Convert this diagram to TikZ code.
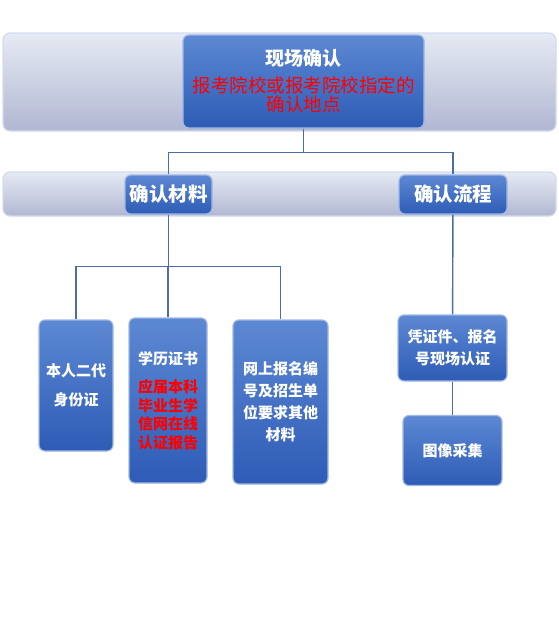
\documentclass[tikz,border=0pt]{standalone}
\usepackage{fontspec}
\setmainfont{Noto Sans CJK SC}
\usepackage{tikz}
\usetikzlibrary{positioning}
\definecolor{bluetop}{HTML}{5C88D3}
\definecolor{bluebot}{HTML}{2E5CB6}
\definecolor{blueedge}{HTML}{9FB8E4}
\definecolor{bandtop}{HTML}{E6EAF4}
\definecolor{bandbot}{HTML}{B1B7D1}
\definecolor{bandedge}{HTML}{D3DBEF}
\definecolor{linecol}{HTML}{4E6DA6}

\begin{document}
\begin{tikzpicture}[x=1pt,y=-1pt,
	blu/.style={rounded corners=6pt,top color=bluetop,bottom color=bluebot,
	draw=blueedge,line width=1.2pt,text=white,align=center,inner sep=0pt,
	font=\fontsize{15}{22}\selectfont\bfseries},
	band/.style={rounded corners=7pt,top color=bandtop,bottom color=bandbot,
	draw=bandedge,line width=1.2pt},
	lin/.style={draw=linecol,line width=1.4pt}]
\useasboundingbox (0,0) rectangle (559,643);
\path[band] (3,33) rectangle (556,131);
\path[band] (3,172) rectangle (556,216);
\node [blu, minimum width=241pt, minimum height=93pt, text width=238pt] (0) at (303.5,81.5)
	{{\fontsize{19}{21}\selectfont 现场确认\par}\vspace{8pt}
	{\color{red}\mdseries\fontsize{18.5}{19}\selectfont 报考院校或报考院校指定的\\确认地点\par}};
\node [blu, minimum width=87pt, minimum height=39pt, font=\fontsize{19.5}{21}\selectfont\bfseries] (1) at (168.5,194.5) {确认材料};
\node [blu, minimum width=108pt, minimum height=39pt, font=\fontsize{19.5}{21}\selectfont\bfseries] (2) at (453,194.5) {确认流程};
\node [blu, minimum width=74pt, minimum height=131pt, font=\fontsize{15}{29}\selectfont\bfseries] (3) at (76,385.5) {本人二代\\身份证};
\node [blu, minimum width=78pt, minimum height=165pt, text width=74pt] (4) at (168,400.5)
	{学历证书\par\vspace{10pt}
	{\color{red}\fontsize{15}{18.5}\selectfont 应届本科\\毕业生学\\信网在线\\认证报告\par}};
\node [blu, minimum width=95pt, minimum height=164pt] (5) at (280.5,402) {网上报名编\\号及招生单\\位要求其他\\材料};
\node [blu, minimum width=109pt, minimum height=66pt] (6) at (452.5,348) {凭证件、报名\\号现场认证};
\node [blu, minimum width=99pt, minimum height=70pt] (7) at (452.5,450.5) {图像采集};
\draw [lin] (0.south) -- ++(0,24) -| (1.north);
\draw [lin] (0.south) -- ++(0,24) -| (2.north);
\draw [lin] (1.south) -- ++(0,52) -| (3.north);
\draw [lin] (1.south) -- ++(0,52) -| (4.north);
\draw [lin] (1.south) -- ++(0,52) -| (5.north);
\draw [lin] (2) -- (6);
\draw [lin] (6) -- (7);
\end{tikzpicture}
\end{document}
